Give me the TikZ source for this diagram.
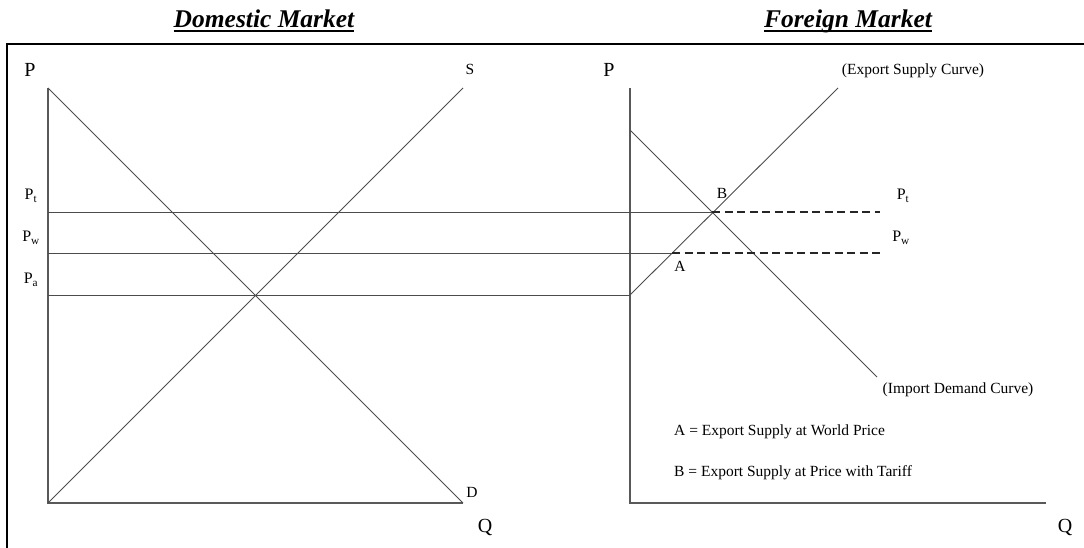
\documentclass[tikz,border=0pt]{standalone}
\usepackage{fontspec}
\setmainfont{Liberation Serif}
\usetikzlibrary{positioning}
\newcommand{\thickul}[1]{\setbox0\hbox{#1}\rlap{\rule[-4.5pt]{\wd0}{2.4pt}}\box0}
\tikzset{
  frameline/.style={draw=black,line width=1.8pt},
  axisline/.style={draw=black!65,line width=1.1pt},
  curveline/.style={draw=black!70,line width=0.9pt},
  priceline/.style={draw=black!70,line width=0.9pt},
  dashline/.style={draw=black!85,line width=1.1pt,dash pattern=on 8pt off 4.5pt},
  axislabel/.style={inner sep=0pt,font=\fontsize{20}{24}\selectfont},
  pricelabel/.style={inner sep=0pt,font=\fontsize{16}{19}\selectfont},
  curvelabel/.style={inner sep=0pt,font=\fontsize{15.5}{19}\selectfont},
  marketitle/.style={inner sep=0pt,anchor=base,font=\fontsize{25.5}{30}\selectfont\bfseries\itshape}
}

\begin{document}
\begin{tikzpicture}[x=1pt,y=-1pt]
  \useasboundingbox (0,0) rectangle (1084,548);

  % titles and frame
  \node[marketitle] (domtitle) at (264,28) {\thickul{Domestic Market}};
  \node[marketitle] (fortitle) at (848,28) {\thickul{Foreign Market}};
  \coordinate (frtl) at (7,44);
  \draw[frameline] (1084,44) -- (frtl) -- (7,548);

  % domestic market
  \coordinate (dO) at (48,503);
  \coordinate (dtop) at (48,88);
  \coordinate (dD) at (463,503);
  \coordinate (dS) at (463,88);
  \coordinate (dPt) at (48,212);
  \coordinate (dPw) at (48,253);
  \coordinate (dPa) at (48,295);
  \draw[axisline] (dtop) -- (dO) -- (dD);
  \draw[curveline] (dtop) -- (dD);
  \draw[curveline] (dO) -- (dS);
  \node[axislabel] (dP) at (30,70) {P};
  \node[axislabel] (dQ) at (485,527) {Q};
  \node[curvelabel] (dSl) at (470,69) {S};
  \node[curvelabel] (dDl) at (472,492) {D};
  \node[pricelabel] (dPtl) at (31,196) {P\textsubscript{t}};
  \node[pricelabel] (dPwl) at (31,238) {P\textsubscript{w}};
  \node[pricelabel] (dPal) at (31,280) {P\textsubscript{a}};

  % foreign market
  \coordinate (fO) at (630,503);
  \coordinate (ftop) at (630,88);
  \coordinate (fQend) at (1046,503);
  \coordinate (fPa) at (630,295);
  \coordinate (fdem) at (630,130);
  \coordinate (fdemend) at (877,377);
  \coordinate (fsupend) at (838,88);
  \coordinate (ptA) at (672,253);
  \coordinate (ptB) at (712,212);
  \coordinate (fPtend) at (880,212);
  \coordinate (fPwend) at (880,253);
  \draw[axisline] (ftop) -- (fO) -- (fQend);
  \draw[curveline] (fdem) -- (fdemend);
  \draw[curveline] (fPa) -- (fsupend);
  \node[axislabel] (fP) at (609,70) {P};
  \node[axislabel] (fQ) at (1065,527) {Q};
  \node[curvelabel] (fsupl) at (913,71) {(Export Supply Curve)};
  \node[curvelabel] (fdeml) at (958,390) {(Import Demand Curve)};
  \node[curvelabel] (Bl) at (722,193) {B};
  \node[curvelabel] (Al) at (680,266) {A};
  \node[pricelabel] (fPtl) at (903,196) {P\textsubscript{t}};
  \node[pricelabel] (fPwl) at (901,238) {P\textsubscript{w}};
  \node[curvelabel,anchor=west] (keyA) at (674,432) {A = Export Supply at World Price};
  \node[curvelabel,anchor=west] (keyB) at (674,473) {B = Export Supply at Price with Tariff};

  % price lines across both markets
  \draw[priceline] (dPt) -- (ptB);
  \draw[priceline] (dPw) -- (ptA);
  \draw[priceline] (dPa) -- (fPa);
  \draw[dashline] (ptB) -- (fPtend);
  \draw[dashline] (ptA) -- (fPwend);
\end{tikzpicture}
\end{document}
